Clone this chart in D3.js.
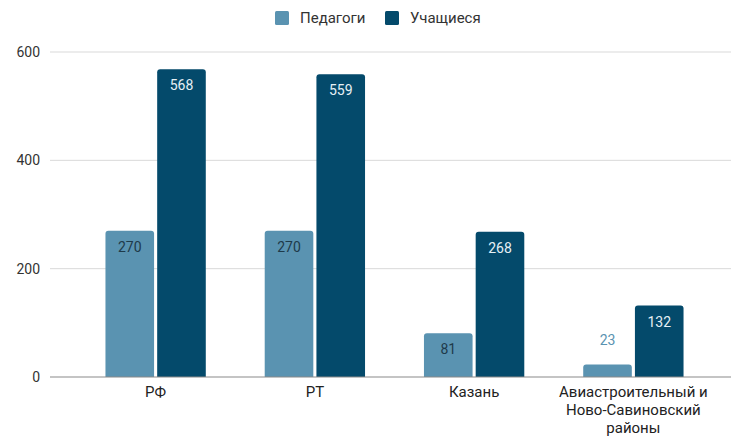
<!DOCTYPE html>
<html><head><meta charset="utf-8">
<script src="https://cdn.jsdelivr.net/npm/d3@7"></script>
<style>body{margin:0;background:#fff;} svg{display:block;font-family:Roboto,"Liberation Sans",Arial,sans-serif;}</style>
</head><body>
<svg id="c" width="731" height="436"></svg>
<script>
const categories = [["РФ"],["РТ"],["Казань"],["Авиастроительный и","Ново-Савиновский","районы"]];
const series = ["Педагоги","Учащиеся"];
const teachers = [270, 270, 81, 23];
const students = [568, 559, 268, 132];
const yTicks = [0, 200, 400, 600];
const colors = ["#5a93b1", "#044a6b"];

const svg = d3.select("#c");
const x0 = d3.scaleBand().domain(d3.range(categories.length)).range([76, 713]).paddingInner(0).paddingOuter(0);
const x1 = d3.scaleBand().domain(series).range([x0.bandwidth()*0.185, x0.bandwidth()*0.815]).paddingInner(0.06);
const y = d3.scaleLinear().domain([0, 600]).range([377, 52]);

// gridlines
svg.append("g").selectAll("line").data(yTicks.filter(d=>d>0)).join("line")
  .attr("x1", 50).attr("x2", 731).attr("y1", d=>y(d)).attr("y2", d=>y(d))
  .attr("stroke", "#d9d9d9").attr("stroke-width", 1);
// y labels
svg.append("g").selectAll("text").data(yTicks).join("text")
  .attr("x", 40).attr("y", d=>y(d)).attr("dy", "0.35em").attr("text-anchor","end")
  .attr("font-size", 14).attr("fill", "#333").text(d=>d);

const data = categories.map((c,i)=>({i, vals:[teachers[i], students[i]]}));
const groups = svg.append("g").selectAll("g").data(data).join("g")
  .attr("transform", d=>`translate(${x0(d.i)},0)`);

function barPath(xl, w, top, bottom, r){
  r = Math.min(r, (bottom-top));
  return `M${xl},${bottom}V${top+r}Q${xl},${top} ${xl+r},${top}H${xl+w-r}Q${xl+w},${top} ${xl+w},${top+r}V${bottom}Z`;
}
groups.each(function(d){
  const g = d3.select(this);
  d.vals.forEach((v,k)=>{
    const xl = x1(series[k]), w = x1.bandwidth();
    g.append("path").attr("d", barPath(xl, w, y(v), y(0), 3)).attr("fill", colors[k]);
    const inside = (y(0)-y(v)) > 30;
    g.append("text").attr("x", xl + w/2)
      .attr("y", inside ? y(v)+21 : y(v)-20)
      .attr("text-anchor","middle").attr("font-size", 14)
      .attr("fill", inside ? (k===0 ? "#1e3a4a" : "#e6f0f5") : colors[0])
      .text(v);
  });
});

// baseline
svg.append("line").attr("x1",50).attr("x2",731).attr("y1",y(0)).attr("y2",y(0))
  .attr("stroke","#8a8a8a").attr("stroke-width",1.2);

// category labels
const cl = svg.append("g").selectAll("text").data(categories).join("text")
  .attr("text-anchor","middle").attr("font-size",15).attr("fill","#222")
  .attr("transform",(d,i)=>`translate(${x0(i)+x0.bandwidth()/2},397)`);
cl.selectAll("tspan").data(d=>d).join("tspan").attr("x",0).attr("dy",(d,j)=>j===0?0:18).text(d=>d);

// legend
const leg = svg.append("g").attr("transform","translate(275,11)");
series.forEach((s,k)=>{
  const off = k===0 ? 0 : 110;
  leg.append("rect").attr("x",off).attr("y",0).attr("width",14).attr("height",14).attr("rx",1.5).attr("fill",colors[k]);
  leg.append("text").attr("x",off+25).attr("y",7).attr("dy","0.35em").attr("font-size",15).attr("fill","#333").text(s);
});
</script>
</body></html>
